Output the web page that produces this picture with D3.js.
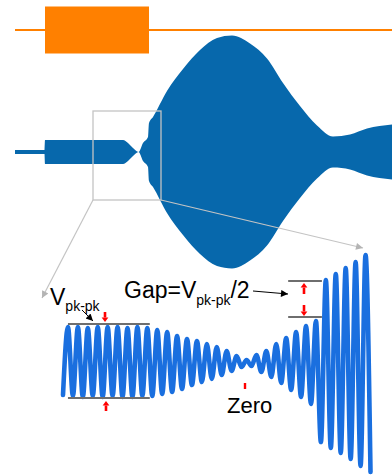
<!DOCTYPE html>
<html>
<head>
<meta charset="utf-8">
<script src="https://cdn.jsdelivr.net/npm/d3@7"></script>
<style>
  body { margin: 0; background: #fff; }
  svg { display: block; }
  text { font-family: "Liberation Sans", Arial, sans-serif; fill: #000; }
</style>
</head>
<body>
<div id="chart"></div>
<script>
// burst envelope, full trace (time ms, half amplitude V)
var envTime = [0, 0.59, 0.6, 2.16, 2.26, 2.36, 2.47, 2.56, 2.66, 2.68, 2.76, 3.04, 3.36, 3.70, 4.04, 4.34, 4.70, 5.04, 5.36, 5.70, 6.04, 6.36, 6.70, 7.04, 7.54];
var envAmp  = [0.04, 0.04, 0.24, 0.24, 0.18, 0.08, 0.0, 0.18, 0.30, 0.58, 0.70, 1.22, 1.66, 2.04, 2.28, 2.33, 2.17, 1.87, 1.38, 0.92, 0.53, 0.31, 0.35, 0.47, 0.55];

// gate pulse (time ms, half height)
var gateTime = [0, 0.6, 2.68, 7.54];
var gateAmp  = [0.02, 0.47, 0.02, 0.02];

// zoomed trace: successive peaks, alternately low / high (V)
var peaks = [
  -0.33, 0.35, -0.34, 0.35, -0.35, 0.34, -0.34, 0.35, -0.35, 0.35,
  -0.34, 0.35, -0.35, 0.34, -0.35, 0.35, -0.34, 0.34, -0.34, 0.32,
  -0.32, 0.30, -0.30, 0.26, -0.27, 0.23, -0.23, 0.21, -0.20, 0.18,
  -0.17, 0.15, -0.13, 0.11, -0.09, 0.06, -0.05, 0.02, -0.04, 0.07,
  -0.10, 0.11, -0.15, 0.18, -0.21, 0.24, -0.28, 0.30, -0.35, 0.36,
  -0.42, 0.41, -0.80, 0.82, -0.86, 0.88, -0.91, 0.94, -0.97, 1.00,
  -1.04, 1.07, -1.10
];

// zoom window on the full trace
var zoomTime = [1.56, 2.92];
var zoomVolt = [-0.96, 0.82];

// reference levels on the zoomed trace
var vpkLevels = [0.38, -0.36];
var vpkSpan = [1, 17.5];
var gapLevels = [0.81, 0.45];
var gapSpan = [45.4, 52.2];

var W = 392, H = 475;
var svg = d3.select("#chart").append("svg")
    .attr("width", W)
    .attr("height", H);

var defs = svg.append("defs");
function marker(id, color, len, wid){
    defs.append("marker")
        .attr("id", id)
        .attr("viewBox", "0 0 10 10")
        .attr("refX", 10).attr("refY", 5)
        .attr("markerUnits", "userSpaceOnUse")
        .attr("markerWidth", len).attr("markerHeight", wid)
        .attr("orient", "auto")
      .append("path")
        .attr("d", "M0,0L10,5L0,10z")
        .attr("fill", color);
}
marker("headGray", "#b4b4b4", 9, 7);
marker("headBlack", "#000", 9, 7);

// ---- full trace
var xTop = d3.scaleLinear().domain([0, 7.54]).range([15, 392]);
var yTop = d3.scaleLinear().domain([-3, 3]).range([302, 2]);
var yGate = d3.scaleLinear().domain([-1, 1]).range([80, -20]);

svg.append("path")
    .datum(gateTime)
    .attr("fill", "#ff8000")
    .attr("d", d3.area()
        .x(function(d){ return xTop(d); })
        .y0(function(d,i){ return yGate(-gateAmp[i]); })
        .y1(function(d,i){ return yGate(gateAmp[i]); })
        .curve(d3.curveStepAfter));

svg.append("path")
    .datum(envTime)
    .attr("fill", "#0768ac")
    .attr("d", d3.area()
        .x(function(d){ return xTop(d); })
        .y0(function(d,i){ return yTop(-envAmp[i]); })
        .y1(function(d,i){ return yTop(envAmp[i]); })
        .curve(d3.curveMonotoneX));

// zoom box + leader arrows
var bx0 = xTop(zoomTime[0]), bx1 = xTop(zoomTime[1]),
    by0 = yTop(zoomVolt[1]), by1 = yTop(zoomVolt[0]);
svg.append("rect")
    .attr("x", bx0).attr("y", by0)
    .attr("width", bx1 - bx0).attr("height", by1 - by0)
    .attr("fill", "none")
    .attr("stroke", "#c4c4c4")
    .attr("stroke-width", 1.3);
svg.append("line")
    .attr("x1", bx0).attr("y1", by1).attr("x2", 42).attr("y2", 298)
    .attr("stroke", "#c4c4c4").attr("stroke-width", 1.2)
    .attr("marker-end", "url(#headGray)");
svg.append("line")
    .attr("x1", bx1).attr("y1", by1).attr("x2", 363).attr("y2", 248)
    .attr("stroke", "#c4c4c4").attr("stroke-width", 1.2)
    .attr("marker-end", "url(#headGray)");

// ---- zoomed trace
var xBot = d3.scaleLinear().domain([0, peaks.length - 1]).range([63, 370.5]);
var yBot = d3.scaleLinear().domain([-1.2, 1.2]).range([482, 242]);

svg.append("path")
    .datum(peaks)
    .attr("fill", "none")
    .attr("stroke", "#1a6fdf")
    .attr("stroke-width", 4.6)
    .attr("stroke-linejoin", "round")
    .attr("stroke-linecap", "round")
    .attr("d", d3.line()
        .x(function(d,i){ return xBot(i); })
        .y(function(d){ return yBot(d); })
        .curve(d3.curveMonotoneX));

svg.selectAll(".vpk").data(vpkLevels).enter().append("line")
    .attr("x1", xBot(vpkSpan[0])).attr("x2", xBot(vpkSpan[1]))
    .attr("y1", function(d){ return yBot(d); })
    .attr("y2", function(d){ return yBot(d); })
    .attr("stroke", "#6e6e6e").attr("stroke-width", 2.2);
svg.selectAll(".gap").data(gapLevels).enter().append("line")
    .attr("x1", xBot(gapSpan[0])).attr("x2", xBot(gapSpan[1]))
    .attr("y1", function(d){ return yBot(d); })
    .attr("y2", function(d){ return yBot(d); })
    .attr("stroke", "#6e6e6e").attr("stroke-width", 2.2);

// small red markers
function redArrow(x, yFrom, yTo){
    var dir = yTo > yFrom ? 1 : -1,
        headLen = 4.5;
    svg.append("line")
        .attr("x1", x).attr("x2", x)
        .attr("y1", yFrom).attr("y2", yTo - dir * headLen)
        .attr("stroke", "#ff0000").attr("stroke-width", 2.6);
    svg.append("path")
        .attr("d", "M" + (x - 3.4) + "," + (yTo - dir * headLen) +
                   "L" + (x + 3.4) + "," + (yTo - dir * headLen) +
                   "L" + x + "," + yTo + "Z")
        .attr("fill", "#ff0000");
}
redArrow(105, 312, 322);
redArrow(106, 411, 401);
redArrow(304, 294, 283);
redArrow(304, 305, 316);
svg.append("line")
    .attr("x1", 245).attr("x2", 245).attr("y1", 383).attr("y2", 389)
    .attr("stroke", "#ff0000").attr("stroke-width", 2.4);

// labels
var v = svg.append("text").attr("x", 50).attr("y", 305).attr("font-size", 23);
v.append("tspan").text("V");
v.append("tspan").attr("font-size", 14).attr("dy", 6).text("pk-pk");
svg.append("line")
    .attr("x1", 82).attr("y1", 310).attr("x2", 93).attr("y2", 321)
    .attr("stroke", "#000").attr("stroke-width", 1)
    .attr("marker-end", "url(#headBlack)");

var g = svg.append("text").attr("x", 124).attr("y", 298).attr("font-size", 23);
g.append("tspan").text("Gap=V");
g.append("tspan").attr("font-size", 14).attr("dy", 7).text("pk-pk");
g.append("tspan").attr("dy", -7).text("/2");
svg.append("line")
    .attr("x1", 253).attr("y1", 291).attr("x2", 288).attr("y2", 294)
    .attr("stroke", "#000").attr("stroke-width", 1)
    .attr("marker-end", "url(#headBlack)");

svg.append("text")
    .attr("x", 227).attr("y", 413)
    .attr("font-size", 22)
    .text("Zero");
</script>
</body>
</html>
